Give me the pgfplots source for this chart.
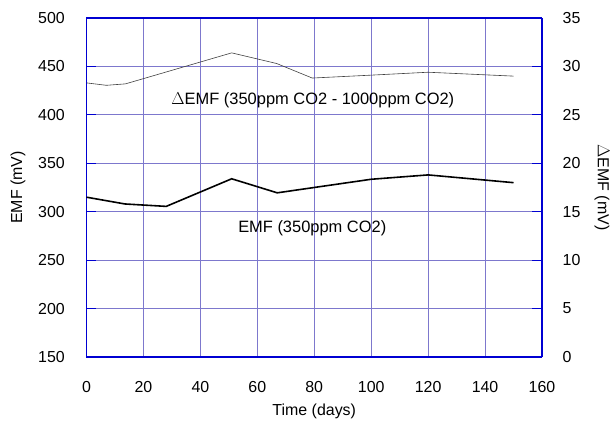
\documentclass[border=0pt]{standalone}
\usepackage{pgfplots}
\pgfplotsset{compat=1.18}
\usepackage{fontspec}
\setmainfont{Liberation Sans}
\definecolor{frameblue}{RGB}{0,0,210}
\definecolor{gridpurple}{RGB}{125,120,205}
\begin{document}
\fontsize{16.5}{19}\selectfont
\begin{tikzpicture}
\pgfplotsset{
  every axis/.append style={
    scale only axis, width=455.5bp, height=339bp,
    xmin=0, xmax=160, 
    axis line style={frameblue, line width=1.1pt},
    tick style={frameblue, line width=1pt},
    /pgf/number format/assume math mode=true,
    tick label style={font=\fontsize{16}{19}\selectfont},
    label style={font=\fontsize{16}{19}\selectfont},
  }
}
\begin{axis}[
  name=ax,
  ymin=150, ymax=500,
  ytick={150,200,...,500},
  xtick={0,20,...,160},
  axis y line*=left,
  axis x line*=bottom,
  major x tick style={draw=none},
  major tick length=10bp,
  ytick pos=left, ytick align=inside,
  grid=major,
  major grid style={gridpurple, line width=0.8pt},
  xticklabel style={anchor=center, yshift=-30bp},
  yticklabel style={anchor=east, xshift=-16bp},
  xlabel={Time (days)},
  ylabel={EMF (mV)},
  xlabel style={at={(axis description cs:0.5,-0.1614)}, anchor=center},
  ylabel style={at={(axis description cs:-0.1504,0.5)}, anchor=center},
  clip=false,
]
\addplot[black, line width=1.6pt] coordinates {
 (0,315) (13.5,308) (28,305.5) (51,334) (67,319.5) (100,333.5) (120,338) (150,330)
};
\node[anchor=center] at (axis cs:79.5,415.3) {$\Delta$EMF (350ppm CO2 - 1000ppm CO2)};
\node[anchor=center] at (axis cs:79.3,283.2) {EMF (350ppm CO2)};
\draw[frameblue, line width=1.1pt] (rel axis cs:0,1) -- (rel axis cs:1,1);
\end{axis}
\begin{axis}[
  ymin=0, ymax=35,
  ytick={0,5,...,35},
  axis y line*=right,
  axis x line=none,
  major tick length=10bp,
  ytick align=inside,
  yticklabel style={anchor=west, xshift=15bp},
  ylabel={$\Delta$EMF (mV)},
  ylabel style={at={(axis description cs:1.1317,0.5)}, anchor=center, rotate=180},
]
\addplot[black!75, line width=0.6pt] coordinates {
 (0,28.3) (7,28.05) (13.7,28.2) (51,31.4) (66.8,30.3) (79.3,28.8) (100,29.1) (120,29.4) (150,29.0)
};
\end{axis}
\pgfresetboundingbox
\path[use as bounding box] ([xshift=-86.5bp,yshift=-65bp]ax.south west) rectangle ([xshift=74bp,yshift=18bp]ax.north east);
\end{tikzpicture}
\end{document}
